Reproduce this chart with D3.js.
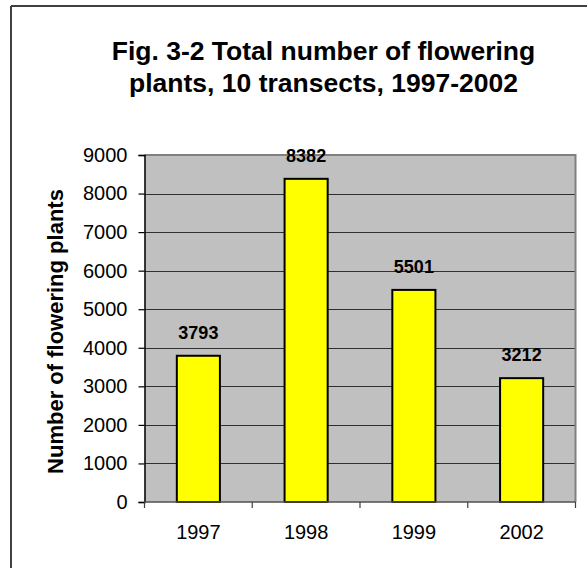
<!DOCTYPE html>
<html>
<head>
<meta charset="utf-8">
<script src="https://cdn.jsdelivr.net/npm/d3@7/dist/d3.min.js"></script>
<style>
  html, body { margin: 0; padding: 0; background: #fff; }
  svg { display: block; font-family: "Liberation Sans", Arial, sans-serif; }
</style>
</head>
<body>
<svg id="chart" width="587" height="568"></svg>
<script>
// Flowering plant counts per survey year
const years = ["1997", "1998", "1999", "2002"];
const plantCounts = [3793, 8382, 5501, 3212];
const yTicks = [0, 1000, 2000, 3000, 4000, 5000, 6000, 7000, 8000, 9000];
const titleLines = ["Fig. 3-2 Total number of flowering", "plants, 10 transects, 1997-2002"];
const yTitle = "Number of flowering plants";

const svg = d3.select("#chart");

// Chart frame (only top and left edges fall inside the page)
svg.append("line").attr("x1", 11).attr("x2", 587).attr("y1", 6).attr("y2", 6)
  .attr("stroke", "#404040").attr("stroke-width", 2);
svg.append("line").attr("x1", 11).attr("x2", 11).attr("y1", 6).attr("y2", 568)
  .attr("stroke", "#404040").attr("stroke-width", 2);

// Plot area bounds
const plotLeft = 144.5, plotRight = 575.5, plotTop = 155, plotBottom = 502;

const x = d3.scaleBand().domain(years).range([plotLeft, plotRight])
  .paddingInner(0.6).paddingOuter(0.3);
const y = d3.scaleLinear().domain([0, 9000]).range([plotBottom, plotTop]);

// Grey plot background
svg.append("rect").attr("x", plotLeft).attr("y", plotTop)
  .attr("width", plotRight - plotLeft).attr("height", plotBottom - plotTop)
  .attr("fill", "#c0c0c0");

// Horizontal gridlines
svg.append("g").selectAll("line").data(yTicks.filter(d => d > 0 && d < 9000)).join("line")
  .attr("x1", plotLeft).attr("x2", plotRight)
  .attr("y1", d => Math.round(y(d)) + 0.5).attr("y2", d => Math.round(y(d)) + 0.5)
  .attr("stroke", "#303030").attr("stroke-width", 1.2);

// Plot border on top and right
svg.append("path")
  .attr("d", `M${plotLeft},${plotTop}H${plotRight}V${plotBottom}`)
  .attr("fill", "none").attr("stroke", "#808080").attr("stroke-width", 2);

// Bars
svg.append("g").selectAll("rect").data(plantCounts).join("rect")
  .attr("x", (d, i) => x(years[i]))
  .attr("y", d => y(d))
  .attr("width", x.bandwidth())
  .attr("height", d => y(0) - y(d))
  .attr("fill", "#ffff00").attr("stroke", "#000").attr("stroke-width", 2);

// Value labels above bars
svg.append("g").selectAll("text").data(plantCounts).join("text")
  .attr("x", (d, i) => x(years[i]) + x.bandwidth() / 2)
  .attr("y", d => y(d) - 17)
  .attr("text-anchor", "middle")
  .attr("font-size", "18px").attr("font-weight", "bold").attr("fill", "#000")
  .text(d => d);

// Y axis
const yAxis = d3.axisLeft(y).tickValues(yTicks).tickSize(6).tickPadding(11)
  .tickFormat(d3.format("d"));
const gy = svg.append("g").attr("transform", `translate(${plotLeft},0)`).call(yAxis);
gy.select(".domain").attr("stroke", "#000").attr("stroke-width", 1.5);
gy.selectAll(".tick line").attr("stroke", "#000").attr("stroke-width", 1.2);
gy.selectAll(".tick text").attr("font-size", "20px").attr("font-family", "Liberation Sans, Arial, sans-serif")
  .attr("fill", "#000");

// X axis with ticks between categories
const gx = svg.append("g").attr("transform", `translate(0,${plotBottom})`);
gx.append("line").attr("x1", plotLeft).attr("x2", plotRight).attr("y1", 0).attr("y2", 0)
  .attr("stroke", "#505050").attr("stroke-width", 1.5);
const boundaries = years.map((d, i) => plotLeft + i * x.step());
boundaries.push(plotRight);
gx.selectAll("line.tick").data(boundaries).join("line").attr("class", "tick")
  .attr("x1", d => d).attr("x2", d => d).attr("y1", 0).attr("y2", 6)
  .attr("stroke", "#404040").attr("stroke-width", 1.2);
gx.selectAll("text").data(years).join("text")
  .attr("x", d => x(d) + x.bandwidth() / 2)
  .attr("y", 37)
  .attr("text-anchor", "middle")
  .attr("font-size", "20px").attr("fill", "#000")
  .text(d => d);

// Y axis title
svg.append("text")
  .attr("transform", "translate(63,331.5) rotate(-90)")
  .attr("text-anchor", "middle")
  .attr("font-size", "22px").attr("font-weight", "bold").attr("fill", "#000")
  .text(yTitle);

// Chart title
svg.append("g").selectAll("text").data(titleLines).join("text")
  .attr("x", 323.5)
  .attr("y", (d, i) => 60 + i * 32)
  .attr("text-anchor", "middle")
  .attr("font-size", "26.5px").attr("font-weight", "bold").attr("fill", "#000")
  .text(d => d);
</script>
</body>
</html>
